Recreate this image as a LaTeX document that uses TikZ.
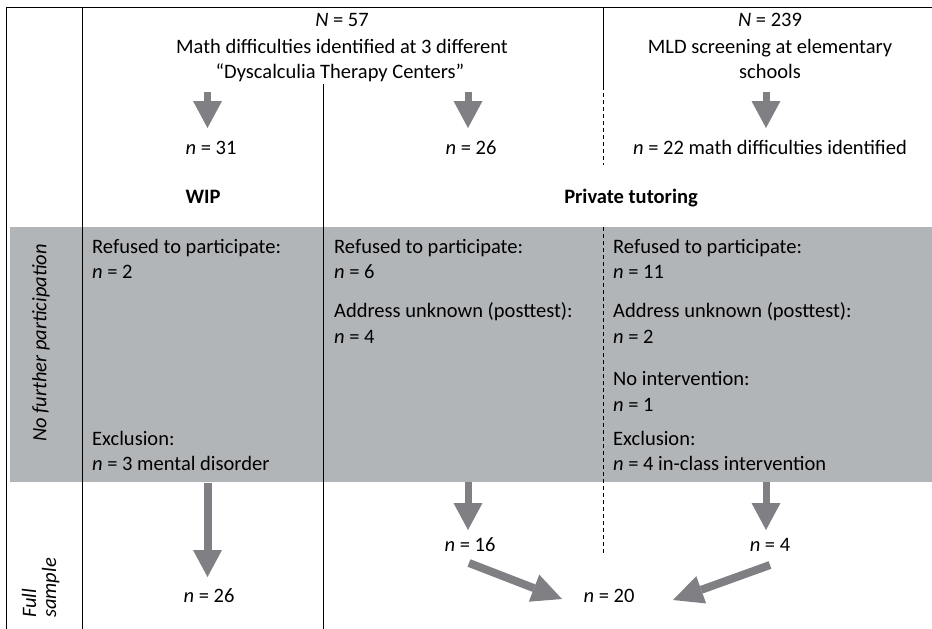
\documentclass[tikz,border=0pt]{standalone}
\usepackage{fontspec}
\setmainfont{Carlito}
\usetikzlibrary{arrows.meta}
\definecolor{band}{RGB}{178,181,184}
\definecolor{arr}{RGB}{127,127,132}
\begin{document}
\begin{tikzpicture}[x=1pt,y=-1pt,
  txt/.style={inner sep=0pt, font=\fontsize{20.5}{25}\selectfont},
  ctr/.style={txt, anchor=base},
  lft/.style={txt, anchor=base west},
  rule/.style={draw=black, line width=1pt},
  dashrule/.style={draw=black, line width=1pt, dash pattern=on 4pt off 3pt},
  blockarrow/.style={draw=arr, line width=7pt, -{Triangle[width=29pt,length=27pt,line width=0pt]}},
  slantarrow/.style={draw=arr, line width=8pt, -{Triangle[width=29pt,length=30pt,line width=0pt]}}]
\useasboundingbox (0,0) rectangle (932,629);
% grey band
\fill[band] (10,227) rectangle (932,482);
% frame and dividers
\draw[rule] (6,629) -- (6,7) -- (932,7);
\draw[rule] (82,7) -- (82,629);
\draw[rule] (323,84) -- (323,629);
\draw[rule] (603,7) -- (603,86);
\draw[dashrule] (603,86) -- (603,165);
\draw[dashrule] (603,227) -- (603,555);
% row labels
\node[txt, rotate=90] (nofurther) at (41,343) {\itshape No further participation};
\node[txt, rotate=90, anchor=base west, align=left, font=\fontsize{20.5}{20}\selectfont\itshape] (full) at (56,618) {Full\\sample};
% header texts
\node[ctr] (N57) at (342,27) {\textit{N} = 57};
\node[ctr] (math) at (342,53) {Math difficulties identified at 3 different};
\node[ctr] (dtc) at (340,78) {“Dyscalculia Therapy Centers”};
\node[ctr] (N239) at (770,27) {\textit{N} = 239};
\node[ctr] (mld) at (770,53) {MLD screening at elementary};
\node[ctr] (schools) at (770,78) {schools};
\node[ctr] (n31) at (211,154) {\textit{n} = 31};
\node[ctr] (n26a) at (471,154) {\textit{n} = 26};
\node[ctr] (n22) at (770,154) {\textit{n} = 22 math difficulties identified};
\node[ctr, font=\fontsize{20.5}{25}\selectfont\bfseries] (wip) at (203,203) {WIP};
\node[ctr, font=\fontsize{20.5}{25}\selectfont\bfseries] (priv) at (631,203) {Private tutoring};
% grey band texts: WIP column
\node[lft] (l1) at (92,253) {Refused to participate:};
\node[lft] (l2) at (92,278) {\textit{n} = 2};
\node[lft] (l3) at (92,445) {Exclusion:};
\node[lft] (l4) at (92,470) {\textit{n} = 3 mental disorder};
% middle column
\node[lft] (m1) at (334,253) {Refused to participate:};
\node[lft] (m2) at (334,278) {\textit{n} = 6};
\node[lft] (m3) at (334,317) {Address unknown (posttest):};
\node[lft] (m4) at (334,343) {\textit{n} = 4};
% right column
\node[lft] (r1) at (613,253) {Refused to participate:};
\node[lft] (r2) at (613,278) {\textit{n} = 11};
\node[lft] (r3) at (613,317) {Address unknown (posttest):};
\node[lft] (r4) at (613,343) {\textit{n} = 2};
\node[lft] (r5) at (613,385) {No intervention:};
\node[lft] (r6) at (613,411) {\textit{n} = 1};
\node[lft] (r7) at (613,445) {Exclusion:};
\node[lft] (r8) at (613,470) {\textit{n} = 4 in-class intervention};
% full sample texts
\node[ctr] (n26b) at (209,602) {\textit{n} = 26};
\node[ctr] (n16) at (470,551) {\textit{n} = 16};
\node[ctr] (n4) at (770,551) {\textit{n} = 4};
\node[ctr] (n20) at (609,602) {\textit{n} = 20};
% arrow end points
\coordinate (a1s) at (207.5,92);  \coordinate (a1e) at (207.5,128);
\coordinate (a2s) at (468,92);    \coordinate (a2e) at (468,128);
\coordinate (a3s) at (766,92);    \coordinate (a3e) at (766,128);
\coordinate (b1s) at (207.5,483); \coordinate (b1e) at (207.5,577);
\coordinate (b2s) at (468,482);   \coordinate (b2e) at (468,530);
\coordinate (b3s) at (766,482);   \coordinate (b3e) at (766,530);
\coordinate (c1s) at (469,563);   \coordinate (c1e) at (562,599);
\coordinate (c2s) at (770,565);   \coordinate (c2e) at (673,600);
% arrows
\draw[blockarrow] (a1s) -- (a1e);
\draw[blockarrow] (a2s) -- (a2e);
\draw[blockarrow] (a3s) -- (a3e);
\draw[blockarrow, line width=8pt] (b1s) -- (b1e);
\draw[blockarrow] (b2s) -- (b2e);
\draw[blockarrow] (b3s) -- (b3e);
\draw[slantarrow] (c1s) -- (c1e);
\draw[slantarrow] (c2s) -- (c2e);
\end{tikzpicture}
\end{document}
